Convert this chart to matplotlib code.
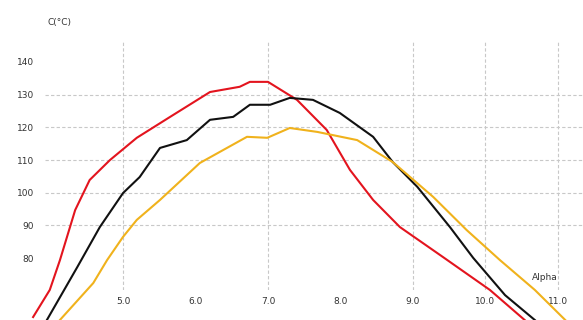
import numpy as np
import matplotlib
matplotlib.use("Agg")
import matplotlib.pyplot as plt

# data
red_x = [3.76, 3.99, 4.13, 4.34, 4.54, 4.82, 5.19, 5.65, 6.20, 6.61, 6.75, 7.00,
         7.40, 7.81, 8.13, 8.45, 8.82, 9.41, 10.06, 10.54]
red_y = [62.0, 70.3, 79.4, 94.7, 103.9, 110.0, 116.8, 123.2, 130.8, 132.4, 133.9, 133.9,
         128.4, 119.2, 107.0, 97.8, 89.5, 80.4, 70.3, 61.1]

black_x = [3.95, 4.37, 4.68, 5.00, 5.23, 5.51, 5.88, 6.20, 6.52, 6.75, 7.03, 7.30,
           7.62, 7.99, 8.45, 8.72, 9.06, 9.51, 9.83, 10.27, 10.68]
black_y = [61.1, 77.3, 89.5, 99.9, 104.8, 113.7, 116.1, 122.3, 123.2, 126.9, 126.9, 129.0,
           128.4, 124.4, 117.1, 109.4, 101.8, 89.5, 80.1, 68.7, 61.1]

yellow_x = [4.13, 4.59, 4.78, 5.00, 5.19, 5.51, 6.06, 6.71, 6.99, 7.30, 7.68, 8.23,
            8.72, 9.28, 9.74, 10.20, 10.68, 11.10]
yellow_y = [61.1, 72.4, 79.4, 86.5, 91.7, 97.8, 109.1, 117.1, 116.8, 119.8, 118.6, 116.1,
            109.4, 98.7, 88.6, 79.4, 70.3, 61.1]

x_ticks = [5.0, 6.0, 7.0, 8.0, 9.0, 10.0, 11.0]
y_ticks = [80, 90, 100, 110, 120, 130, 140]
grid_x = [5.0, 7.0, 9.0, 10.0, 11.0]
grid_y = [90, 100, 110, 120, 130]

fig = plt.figure(figsize=(5.83, 3.2), dpi=100)
ax = fig.add_axes([45/583, 30/320, 538/583, 250/320])

ax.set_xlim(3.924, 11.345)
ax.set_ylim(70.27, 146.7)

for gx in grid_x:
    ax.axvline(gx, color="#c8c8c8", lw=0.8, ls=(0, (3, 2)), zorder=0)
for gy in grid_y:
    ax.axhline(gy, color="#c8c8c8", lw=0.8, ls=(0, (3, 2)), zorder=0)

ax.plot(red_x, red_y, color="#e3141e", lw=1.5, clip_on=False)
ax.plot(black_x, black_y, color="#111111", lw=1.5, clip_on=False)
ax.plot(yellow_x, yellow_y, color="#f0b21c", lw=1.5, clip_on=False)

for s in ax.spines.values():
    s.set_visible(False)

ax.set_xticks(x_ticks)
ax.set_xticklabels(["%.1f" % v for v in x_ticks])
ax.set_yticks(y_ticks)
ax.tick_params(axis="both", length=0, labelsize=6.5, colors="#333333")
ax.tick_params(axis="y", pad=8)
ax.tick_params(axis="x", pad=5)

ax.set_xlabel("Alpha", fontsize=6.5, color="#333333")
ax.xaxis.set_label_coords(0.929, 0.07)
fig.text(59/583, 1 - 22/320, "C(°C)", fontsize=6.5, color="#333333", ha="center", va="center")

fig.savefig("out.png", dpi=100)
